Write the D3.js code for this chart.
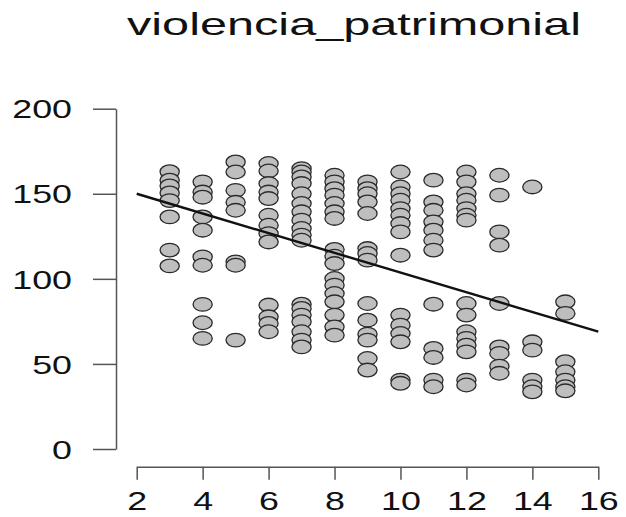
<!DOCTYPE html>
<html>
<head>
<meta charset="utf-8">
<script src="https://cdn.jsdelivr.net/npm/d3@7"></script>
<style>
  html, body { margin: 0; padding: 0; background: #fff; }
  svg { display: block; }
</style>
</head>
<body>
<svg id="chart" width="626" height="517"></svg>
<script>
// ---- data ----
const title = "violencia_patrimonial";
const xTicks = [2, 4, 6, 8, 10, 12, 14, 16];
const yTicks = [0, 50, 100, 150, 200];

// x value of each point (years) and its y value
const xVals = [
  3,3,3,3,3,3,3,3,
  4,4,4,4,4,4,4,4,4,4,
  5,5,5,5,5,5,5,5,
  6,6,6,6,6,6,6,6,6,6,6,6,6,
  7,7,7,7,7,7,7,7,7,7,7,7,7,7,7,7,7,7,
  8,8,8,8,8,8,8,8,8,8,8,8,8,8,8,8,8,
  9,9,9,9,9,9,9,9,9,9,9,9,9,9,
  10,10,10,10,10,10,10,10,10,10,10,10,10,10,10,
  11,11,11,11,11,11,11,11,11,11,11,11,
  12,12,12,12,12,12,12,12,12,12,12,12,12,12,12,
  13,13,13,13,13,13,13,13,13,
  14,14,14,14,14,14,
  15,15,15,15,15,15,15
];
const yVals = [
  163,158,154.6,150.5,146,136.4,116.9,107.6,
  157,151,148,136.4,128.6,112.9,108,85,74.2,65,
  168.7,162.8,152,145,140.3,110,108,64,
  167.8,163.4,156,151,147.2,137.4,131.5,126.6,121.7,84.6,77.7,73.8,68.9,
  164.8,162.8,159.9,156,150,144.3,139.4,134.5,129.6,125.7,122.7,85.1,82.6,78.7,74.8,68.9,64,60,
  160.9,157,153,149.2,144.3,139.4,135.5,117.3,113.3,109,100.2,96.3,91.4,86.5,78.7,71.8,66.9,
  157,153,150,145.2,138.4,117.8,114.9,111,85.5,75.7,67.5,64,53.2,46.4,
  162.8,154,150,146.2,141.3,137.4,132.5,127.6,113.9,78.7,72.8,67.9,63,40.5,38.6,
  158,145.2,140.3,133.5,128.6,122.7,116.9,85.1,59.1,53.8,40.5,36.6,
  162.8,157,150,146.2,141.3,137.4,134.5,85.5,78.7,68.9,65,61,57.1,40.5,37.6,
  160.9,149.2,127.6,119.8,85.5,60,56.2,48.7,44.5,
  154,63,58.1,40.5,36.6,33.6,
  86.5,79.7,51.3,45.4,40.5,36.6,34.2
];
// fitted line: [intercept, slope]
const fitLine = [161.6, -5.79];
const fitRange = [2, 16];

// ---- drawing ----
const svg = d3.select("#chart");
const FONT = "'Liberation Sans', Arial, Helvetica, sans-serif";
const STRETCH = 1.4;
const axisColor = "#555";

const x = d3.scaleLinear().domain([2, 16]).range([136.7, 598.3]);
const y = d3.scaleLinear().domain([0, 200]).range([449, 108.7]);

// title
svg.append("text")
  .attr("x", 354).attr("y", 35)
  .attr("text-anchor", "middle")
  .attr("font-family", FONT)
  .attr("font-size", 32)
  .attr("fill", "#111")
  .attr("textLength", 454)
  .attr("lengthAdjust", "spacingAndGlyphs")
  .text(title);

// y axis
const yAxis = svg.append("g")
  .attr("transform", "translate(116,0)")
  .call(d3.axisLeft(y).tickValues(yTicks).tickSize(23).tickSizeOuter(0));
yAxis.select(".domain").attr("stroke", axisColor).attr("stroke-width", 1.5);
yAxis.selectAll(".tick line").attr("stroke", axisColor).attr("stroke-width", 1.5);
yAxis.selectAll(".tick text")
  .attr("x", 0).attr("dy", null).attr("y", 9.2)
  .attr("text-anchor", "end")
  .attr("transform", `translate(-44,0) scale(${STRETCH},1)`)
  .attr("font-family", FONT).attr("font-size", 25.6).attr("fill", "#111");

// x axis
const xAxis = svg.append("g")
  .attr("transform", "translate(0,466.7)")
  .call(d3.axisBottom(x).tickValues(xTicks).tickSize(13).tickSizeOuter(0));
xAxis.select(".domain").attr("stroke", axisColor).attr("stroke-width", 1.5);
xAxis.selectAll(".tick line").attr("stroke", axisColor).attr("stroke-width", 1.5);
xAxis.selectAll(".tick text")
  .attr("x", 0).attr("dy", null).attr("y", 0)
  .attr("text-anchor", "middle")
  .attr("transform", `translate(0,43.3) scale(${STRETCH},1)`)
  .attr("font-family", FONT).attr("font-size", 25.6).attr("fill", "#111");

// points
const pts = xVals.map((v, i) => ({ x: v, y: yVals[i] }));
svg.append("g").selectAll("ellipse")
  .data(pts)
  .join("ellipse")
  .attr("cx", d => x(d.x))
  .attr("cy", d => y(d.y))
  .attr("rx", 9.6)
  .attr("ry", 6.8)
  .attr("fill", "#bebebe")
  .attr("stroke", "#2a2a2a")
  .attr("stroke-width", 1.3);

// fitted line
svg.append("line")
  .attr("x1", x(fitRange[0])).attr("y1", y(fitLine[0] + fitLine[1] * fitRange[0]))
  .attr("x2", x(fitRange[1])).attr("y2", y(fitLine[0] + fitLine[1] * fitRange[1]))
  .attr("stroke", "#111")
  .attr("stroke-width", 2.4);
</script>
</body>
</html>
